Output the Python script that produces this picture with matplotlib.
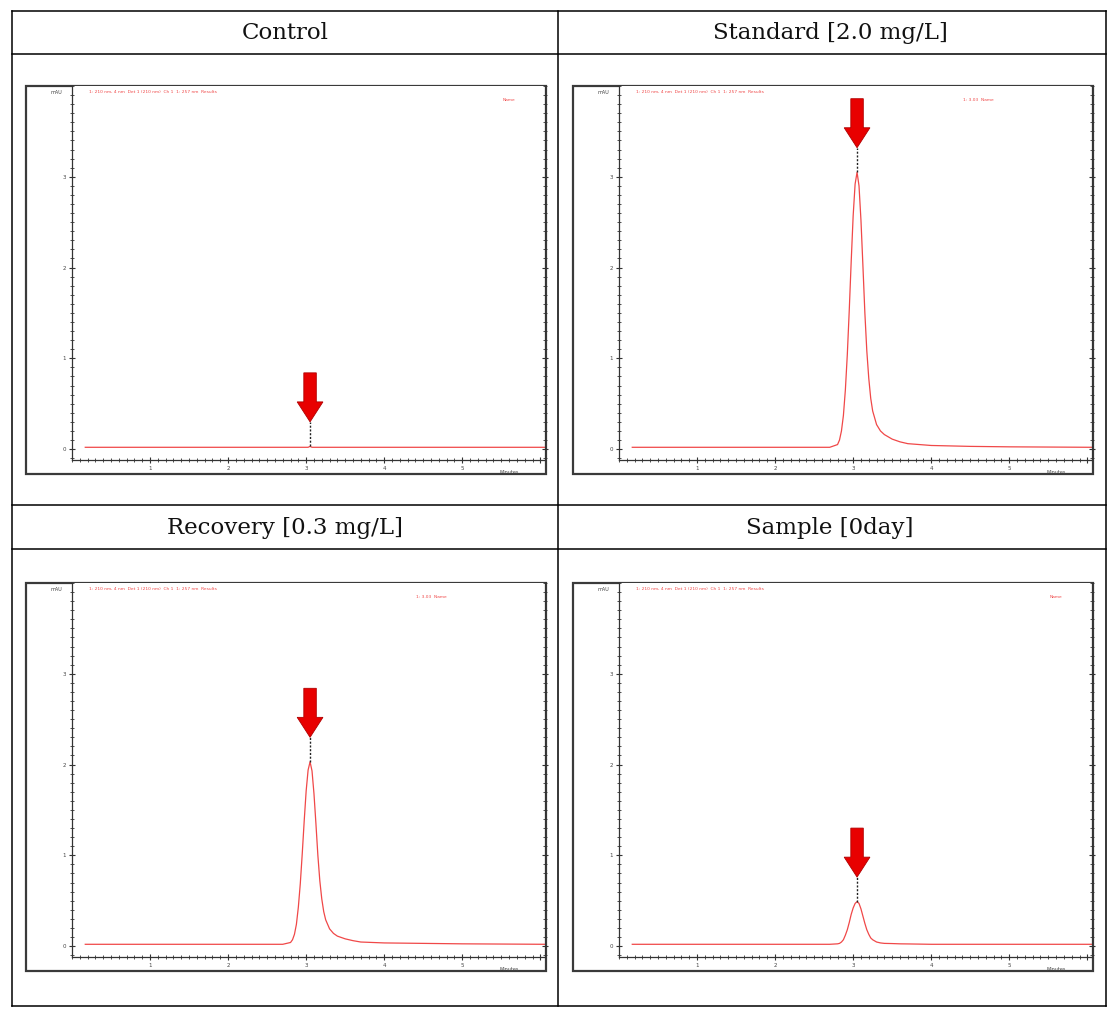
import numpy as np
import matplotlib
matplotlib.use("Agg")
import matplotlib.pyplot as plt
from matplotlib.patches import Rectangle
from matplotlib.ticker import MultipleLocator

# ---- data (time in min, signal) ----
titles = ["Control", "Standard [2.0 mg/L]", "Recovery [0.3 mg/L]", "Sample [0day]"]
legend_txt = ["Name", "1: 3.03  Name", "1: 3.03  Name", "Name"]
header_txt = "1: 210 nm, 4 nm  Det 1 (210 nm)  Ch 1  1: 257 nm  Results"

time = [0.17, 2.70, 2.80, 2.825, 2.85, 2.875, 2.90, 2.925, 2.95, 2.975, 3.00,
        3.025, 3.05, 3.075, 3.10, 3.125, 3.15, 3.175, 3.20, 3.225, 3.25,
        3.30, 3.35, 3.40, 3.50, 3.60, 3.70, 3.85, 4.00, 4.50, 5.00, 6.06]
control = [0.02, 0.02, 0.02, 0.02, 0.02, 0.02, 0.02, 0.02, 0.02, 0.02, 0.02,
           0.02, 0.03, 0.02, 0.02, 0.02, 0.02, 0.02, 0.02, 0.02, 0.02,
           0.02, 0.02, 0.02, 0.02, 0.02, 0.02, 0.02, 0.02, 0.02, 0.02, 0.02]
standard = [0.02, 0.02, 0.05, 0.10, 0.20, 0.37, 0.65, 1.04, 1.53, 2.07, 2.57,
            2.92, 3.05, 2.90, 2.52, 2.02, 1.50, 1.08, 0.78, 0.56, 0.42,
            0.27, 0.20, 0.16, 0.11, 0.08, 0.06, 0.05, 0.04, 0.03, 0.025, 0.02]
recovery = [0.02, 0.02, 0.04, 0.07, 0.13, 0.24, 0.43, 0.69, 1.02, 1.38, 1.71,
            1.94, 2.03, 1.93, 1.68, 1.35, 1.00, 0.72, 0.52, 0.38, 0.29,
            0.19, 0.14, 0.11, 0.08, 0.06, 0.045, 0.04, 0.035, 0.03, 0.025, 0.02]
sample = [0.02, 0.02, 0.025, 0.03, 0.045, 0.07, 0.12, 0.18, 0.26, 0.35, 0.42,
          0.47, 0.49, 0.47, 0.41, 0.33, 0.25, 0.18, 0.13, 0.09, 0.07,
          0.045, 0.035, 0.03, 0.028, 0.025, 0.024, 0.022, 0.02, 0.02, 0.02, 0.02]
series = [control, standard, recovery, sample]

W, H = 1119, 1019
fig = plt.figure(figsize=(W / 100, H / 100), dpi=100)

def px(x0, y0, x1, y1):
    # pixel box -> figure rect
    return [x0 / W, 1 - y1 / H, (x1 - x0) / W, (y1 - y0) / H]

# table grid
bg = fig.add_axes([0, 0, 1, 1])
bg.set_xlim(0, W)
bg.set_ylim(H, 0)
bg.axis("off")
lw = 1.1
for y in [11, 54, 505, 549, 1006]:
    bg.plot([12, 1106], [y, y], color="k", lw=lw)
for x in [12, 558, 1106]:
    bg.plot([x, x], [11, 1006], color="k", lw=lw)

centers = [(285, 33), (830, 33), (285, 528), (830, 528)]
for t, (cx, cy) in zip(titles, centers):
    bg.text(cx, cy, t, ha="center", va="center", fontsize=16.5,
            family="DejaVu Serif", color="#111111")

red = "#f04848"
offsets = [(0, 0), (547, 0), (0, 497), (547, 497)]

for i, (dx, dy) in enumerate(offsets):
    # outer frame of the screenshot
    bg.add_patch(Rectangle((26 + dx, 86 + dy), 520, 388, fill=False,
                           edgecolor="#3a3a3a", lw=1.6))
    ax = fig.add_axes(px(72 + dx, 86 + dy, 545 + dx, 460 + dy))
    ax.set_xlim(0, 6.06)
    ax.set_ylim(-0.12, 4.0)
    ax.plot(time, series[i], color=red, lw=0.9)

    # arrow pointing at the peak
    k = int(np.argmax(series[i]))
    rt, top = time[k], series[i][k]
    tip = top + 0.27
    ax.plot([rt, rt], [top, tip], color="#222222", lw=1.0, ls=(0, (1.5, 1.2)))
    ax.arrow(rt, tip + 0.54, 0, -0.54, width=0.16, head_width=0.33,
             head_length=0.22, length_includes_head=True,
             facecolor="#e80000", edgecolor="#b00000", lw=0.6, zorder=5)

    for s in ax.spines.values():
        s.set_color("#333333")
        s.set_linewidth(0.9)
    ax.spines["top"].set_visible(False)
    ax.xaxis.set_major_locator(MultipleLocator(1))
    ax.xaxis.set_minor_locator(MultipleLocator(0.1))
    ax.yaxis.set_major_locator(MultipleLocator(1))
    ax.yaxis.set_minor_locator(MultipleLocator(0.1))
    ax.set_yticks([0, 1, 2, 3])
    ax.set_xticks([1, 2, 3, 4, 5, 6])
    ax.set_xticklabels(["1", "2", "3", "4", "5", ""])
    ax.tick_params(which="both", direction="inout", right=True, color="#333333",
                   labelsize=4, labelcolor="#444444", pad=2)
    ax.tick_params(which="major", length=5, width=0.8)
    ax.tick_params(which="minor", length=3, width=0.6)
    ax.tick_params(axis="y", which="both", labelright=False)

    ax.text(-0.12, 3.93, "mAU", fontsize=3.5, color="#444444", ha="right", va="center")
    ax.text(5.6, -0.26, "Minutes", fontsize=3.5, color="#444444", ha="center", va="center")
    ax.text(0.22, 3.93, header_txt, fontsize=3.2, color=red, ha="left", va="center")
    ax.text(5.6 if i in (0, 3) else 4.6, 3.85, legend_txt[i], fontsize=3.2,
            color=red, ha="center", va="center")

fig.savefig("out.png", dpi=100)
